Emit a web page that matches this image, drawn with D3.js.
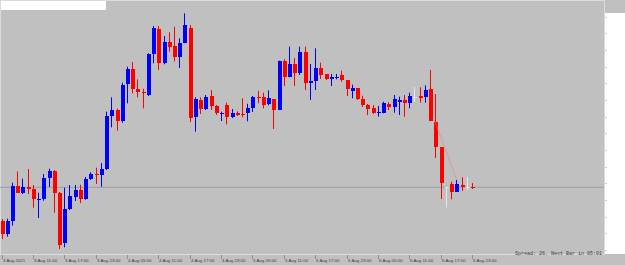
<!DOCTYPE html>
<html><head><meta charset="utf-8">
<script src="https://cdn.jsdelivr.net/npm/d3@7"></script>
<style>
html,body{margin:0;padding:0;background:#c0c0c0;overflow:hidden}
svg{display:block}
</style></head>
<body>
<svg id="c" width="625" height="265"></svg>
<script>
// Hourly bars, 3 Aug 2021 05:00 .. 6 Aug 2021 23:00 (price in chart units)
const opens = [39,26,39,74,67.3,73,71,60,60.7,82,89.3,67.3,16.7,51.3,63.3,70,61,81,86.3,84.7,
  90.7,144.3,149.7,139.3,176,191.3,170.7,168.3,164.7,206,231.3,196.7,217.7,214,203.3,217.3,231.7,143.3,160,151,
  164,154,146,155.3,142.7,147.3,146.3,147,152,163,162.7,155.7,161,150,199.3,183.3,195.7,187.3,208,176.7,
  179.3,191.7,186,181.3,182.3,184.7,180,169.3,172,160.7,155,151.7,147.3,147.3,156,152.7,158.3,160,157.3,163,
  164,162.7,171,138.3,112.7,73.3,75.7,68.3,75,73.3,72.7];
const highs = [41,41.3,77.3,88.5,81.3,91,75,67.3,86,91.3,90,68,72.3,75,75,75.3,83,87.7,92.3,97,
  148.3,162.7,151.3,177.3,193.3,198,180.7,171.3,206.7,234,234,224,227.7,233.3,221.7,246.7,235,162.7,162.7,165,
  170,155,148.3,157.3,151,148.7,161.7,156.3,164,169.3,167.3,169.7,161,199.3,200.7,213.3,202,213.3,213.3,196,
  211.7,197.3,186,186,186,189.3,180,175.3,172,164.3,156,155,154,158.3,157.7,165,163.3,165,167.3,173,
  172.7,174.7,190,166,113,73.3,78.3,80,82.7,83,77];
const lows = [21,23.3,34.3,67,66,66,52.3,42,59.3,73,47.3,11,12.7,50,59,57,60.3,80,76,73.3,
  90,132.7,129.3,137.3,156.7,166.7,162.7,151.7,164,196.7,190,195.7,208.3,198.5,192,216.7,138,128.3,146,150,
  150,145,139,135.7,142,144,142.7,138.7,148,156.7,151.7,154.7,131,150,174,182.7,174,185,170,160,
  170,181,180,174,180.7,178.3,164,161.7,160,153,145,146,143.3,146.7,150,147.3,145,143.3,151.7,158,
  157.3,157.3,139,102,61,52.7,60.7,68.3,69,70,71];
const closes = [26,39,74,67.3,73.3,71.3,61,61,82.3,89.3,66.7,15,51.3,64,70,61.3,81,86.3,85,91,
  144.3,149.7,139.3,175,191.3,170.7,168.3,167,206,231.7,196.7,218,213.3,203.3,217.3,235,142.5,160.7,151,163.3,
  154,146.7,147.3,143.3,147.3,145.3,145.3,152,163,161.7,155.3,161.7,150,199.3,183.3,195.7,187.3,208.5,176.7,179.3,
  191.7,185.3,181.3,182.7,183.3,180,170.7,172,160.7,155,150.7,146.7,148.3,156.7,152.7,161,160,156.7,164,163,
  162,170,139.3,112.7,76.7,73.3,68.3,75.7,73.3,73.3,72.7];
const xLabels = ["3 Aug 2021","3 Aug 11:00","3 Aug 17:00","3 Aug 23:00","4 Aug 05:00","4 Aug 11:00",
  "4 Aug 17:00","4 Aug 23:00","5 Aug 05:00","5 Aug 11:00","5 Aug 17:00","5 Aug 23:00","6 Aug 05:00",
  "6 Aug 11:00","6 Aug 17:00","6 Aug 23:00"];
const labelEvery = 6;
const trendLine = [[82.8,140],[87.1,80]];
const statusText = "Spread: 26. Next Bar in 05:01";

const svg = d3.select("#c");
const W = 625, H = 265, plotR = 604, plotB = 254;
const n = opens.length;
const x = d3.scaleLinear().domain([0, n-1]).range([1.5, 472]);
const y = d3.scaleLinear().domain([0, 260]).range([260, 0]);

svg.append("rect").attr("x",0).attr("y",0).attr("width",W).attr("height",H).attr("fill","#c0c0c0");
svg.append("rect").attr("x",plotR+1).attr("y",13).attr("width",W-plotR-1).attr("height",plotB-13).attr("fill","#ffffff");
svg.append("path").attr("d",`M0.5,${plotB}V0.5H${plotR+0.5}V${plotB+0.5}H0`)
  .attr("fill","none").attr("stroke","#dcdcdc").attr("stroke-width",1);
const tickStep = 50/3;
d3.range(260-16.7, 0, -tickStep).forEach(v=>{
  svg.append("line").attr("x1",plotR-1).attr("x2",plotR+3)
    .attr("y1",Math.round(y(v))+0.5).attr("y2",Math.round(y(v))+0.5)
    .attr("stroke","#d0d0d0").attr("stroke-width",1);
});
svg.append("rect").attr("x",1).attr("y",1).attr("width",105).attr("height",9).attr("fill","#ffffff");

const bid = closes[n-1];
svg.append("line").attr("x1",0).attr("x2",plotR).attr("y1",y(bid)).attr("y2",y(bid))
  .attr("stroke","#9d9dab").attr("stroke-width",1);

const data = d3.range(n).map(i=>({i,o:opens[i],h:highs[i],l:lows[i],c:closes[i]}));
const col = d => d.c > d.o ? "#0000ff" : (d.c < d.o ? "#ff0000" : (d.i===n-1 ? "#ff0000" : "#e6e6e6"));
const g = svg.append("g");
g.selectAll("line.w").data(data).join("line").attr("class","w")
  .attr("x1",d=>Math.round(x(d.i))+0.5).attr("x2",d=>Math.round(x(d.i))+0.5)
  .attr("y1",d=>y(d.h)).attr("y2",d=>y(d.l))
  .attr("stroke",col).attr("stroke-width",1);
g.selectAll("rect.b").data(data).join("rect").attr("class","b")
  .attr("x",d=>Math.round(x(d.i))-1.5)
  .attr("width",4)
  .attr("y",d=>y(Math.max(d.o,d.c)))
  .attr("height",d=>Math.max(1, Math.abs(y(d.o)-y(d.c))))
  .attr("fill",col).attr("shape-rendering","crispEdges");

svg.append("line").attr("x1",x(trendLine[0][0])).attr("y1",y(trendLine[0][1]))
  .attr("x2",x(trendLine[1][0])).attr("y2",y(trendLine[1][1]))
  .attr("stroke","#ff7070").attr("stroke-width",1).attr("stroke-dasharray","1,1");

const ax = svg.append("g");
xLabels.forEach((t,k)=>{
  const xi = Math.round(x(k*labelEvery));
  ax.append("line").attr("x1",xi+0.5).attr("x2",xi+0.5).attr("y1",plotB+1).attr("y2",plotB+5)
    .attr("stroke","#909090").attr("stroke-width",1);
  ax.append("text").attr("x",xi+1).attr("y",262).text(t)
    .attr("font-family","Liberation Sans, Arial, sans-serif").attr("font-size","4.4px").attr("fill","#3c3c3c");
});
svg.append("text").attr("x",515).attr("y",255).text(statusText)
  .attr("font-family","Liberation Mono, monospace").attr("font-size","5px").attr("fill","#3c3c3c");
</script>
</body></html>
